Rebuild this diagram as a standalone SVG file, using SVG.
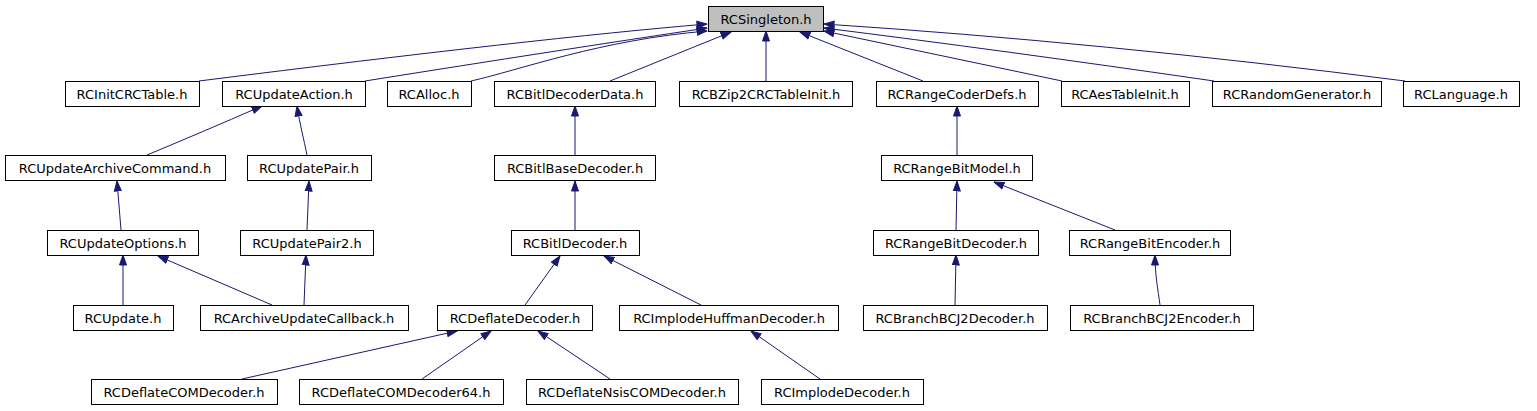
<svg xmlns="http://www.w3.org/2000/svg" width="1537" height="411" viewBox="0 0 1537 411">
<style>
.n rect{fill:#ffffff;stroke:#000000;stroke-width:1}
.n.root rect{fill:#bfbfbf}
.n text{font-family:"DejaVu Sans","Liberation Sans",sans-serif;font-size:13px;fill:#000000;text-anchor:middle}
.e path{fill:none;stroke:#191970;stroke-width:1;marker-end:url(#arr)}
</style>
<defs>
<marker id="arr" markerUnits="userSpaceOnUse" markerWidth="11" markerHeight="9" viewBox="0 0 11 9" refX="10.5" refY="4.5" orient="auto">
<path d="M0.5,1 L10.5,4.5 L0.5,8 z" fill="#191970" stroke="#191970" stroke-width="1"/>
</marker>
</defs>
<rect width="1537" height="411" fill="#ffffff"/>
<g id="connectors" class="e">
<path d="M199,81 Q540,38 707,24"/>
<path d="M365,81 Q560,50 707,28"/>
<path d="M471,81 C520,70 600,40 707,31"/>
<path d="M610,81 L731,32"/>
<path d="M766,81 L766,31"/>
<path d="M923,81 L800,32"/>
<path d="M1062,81 L824,31"/>
<path d="M1214,81 Q1000,50 824,28"/>
<path d="M1405,81 Q1100,42 824,24"/>
<path d="M147,155 Q200,133 262,106"/>
<path d="M307,155 C304,140 300,125 297,106"/>
<path d="M575,155 L575,106"/>
<path d="M957,155 L957,106"/>
<path d="M121,230 L117,181"/>
<path d="M307,230 L309,181"/>
<path d="M575,230 L575,181"/>
<path d="M956,230 L957,181"/>
<path d="M1115,230 L994,182"/>
<path d="M123,305 L123,255"/>
<path d="M272,305 L158,256"/>
<path d="M304,305 L306,255"/>
<path d="M525,305 L560,256"/>
<path d="M701,305 L604,256"/>
<path d="M955,305 L956,255"/>
<path d="M1160,305 C1158,290 1155,275 1155,255"/>
<path d="M242,379 L457,331"/>
<path d="M422,379 L491,331"/>
<path d="M610,379 L538,331"/>
<path d="M820,379 L751,331"/>
</g>
<g id="RCSingleton" class="n root"><rect x="708.5" y="6.5" width="115" height="25"/><text x="766" y="24">RCSingleton.h</text></g>
<g id="RCInitCRCTable" class="n"><rect x="65.5" y="81.5" width="134" height="25"/><text x="132" y="99">RCInitCRCTable.h</text></g>
<g id="RCUpdateAction" class="n"><rect x="222.5" y="81.5" width="143" height="25"/><text x="294" y="99">RCUpdateAction.h</text></g>
<g id="RCAlloc" class="n"><rect x="387.5" y="81.5" width="84" height="25"/><text x="429" y="99">RCAlloc.h</text></g>
<g id="RCBitlDecoderData" class="n"><rect x="494.5" y="81.5" width="161" height="25"/><text x="575" y="99">RCBitlDecoderData.h</text></g>
<g id="RCBZip2CRCTableInit" class="n"><rect x="679.5" y="81.5" width="173" height="25"/><text x="766" y="99">RCBZip2CRCTableInit.h</text></g>
<g id="RCRangeCoderDefs" class="n"><rect x="876.5" y="81.5" width="162" height="25"/><text x="957" y="99">RCRangeCoderDefs.h</text></g>
<g id="RCAesTableInit" class="n"><rect x="1061.5" y="81.5" width="128" height="25"/><text x="1125" y="99">RCAesTableInit.h</text></g>
<g id="RCRandomGenerator" class="n"><rect x="1212.5" y="81.5" width="169" height="25"/><text x="1297" y="99">RCRandomGenerator.h</text></g>
<g id="RCLanguage" class="n"><rect x="1403.5" y="81.5" width="116" height="25"/><text x="1461" y="99">RCLanguage.h</text></g>
<g id="RCUpdateArchiveCommand" class="n"><rect x="5.5" y="155.5" width="220" height="25"/><text x="115" y="173">RCUpdateArchiveCommand.h</text></g>
<g id="RCUpdatePair" class="n"><rect x="247.5" y="155.5" width="124" height="25"/><text x="309" y="173">RCUpdatePair.h</text></g>
<g id="RCBitlBaseDecoder" class="n"><rect x="494.5" y="155.5" width="161" height="25"/><text x="575" y="173">RCBitlBaseDecoder.h</text></g>
<g id="RCRangeBitModel" class="n"><rect x="881.5" y="155.5" width="151" height="25"/><text x="957" y="173">RCRangeBitModel.h</text></g>
<g id="RCUpdateOptions" class="n"><rect x="47.5" y="230.5" width="151" height="25"/><text x="123" y="248">RCUpdateOptions.h</text></g>
<g id="RCUpdatePair2" class="n"><rect x="240.5" y="230.5" width="133" height="25"/><text x="307" y="248">RCUpdatePair2.h</text></g>
<g id="RCBitlDecoder" class="n"><rect x="511.5" y="230.5" width="128" height="25"/><text x="575" y="248">RCBitlDecoder.h</text></g>
<g id="RCRangeBitDecoder" class="n"><rect x="873.5" y="230.5" width="165" height="25"/><text x="956" y="248">RCRangeBitDecoder.h</text></g>
<g id="RCRangeBitEncoder" class="n"><rect x="1069.5" y="230.5" width="161" height="25"/><text x="1150" y="248">RCRangeBitEncoder.h</text></g>
<g id="RCUpdate" class="n"><rect x="73.5" y="305.5" width="100" height="25"/><text x="123" y="323">RCUpdate.h</text></g>
<g id="RCArchiveUpdateCallback" class="n"><rect x="200.5" y="305.5" width="208" height="25"/><text x="304" y="323">RCArchiveUpdateCallback.h</text></g>
<g id="RCDeflateDecoder" class="n"><rect x="437.5" y="305.5" width="155" height="25"/><text x="515" y="323">RCDeflateDecoder.h</text></g>
<g id="RCImplodeHuffmanDecoder" class="n"><rect x="619.5" y="305.5" width="219" height="25"/><text x="729" y="323">RCImplodeHuffmanDecoder.h</text></g>
<g id="RCBranchBCJ2Decoder" class="n"><rect x="863.5" y="305.5" width="184" height="25"/><text x="955" y="323">RCBranchBCJ2Decoder.h</text></g>
<g id="RCBranchBCJ2Encoder" class="n"><rect x="1070.5" y="305.5" width="183" height="25"/><text x="1162" y="323">RCBranchBCJ2Encoder.h</text></g>
<g id="RCDeflateCOMDecoder" class="n"><rect x="91.5" y="379.5" width="186" height="25"/><text x="184" y="397">RCDeflateCOMDecoder.h</text></g>
<g id="RCDeflateCOMDecoder64" class="n"><rect x="299.5" y="379.5" width="204" height="25"/><text x="401" y="397">RCDeflateCOMDecoder64.h</text></g>
<g id="RCDeflateNsisCOMDecoder" class="n"><rect x="526.5" y="379.5" width="212" height="25"/><text x="632" y="397">RCDeflateNsisCOMDecoder.h</text></g>
<g id="RCImplodeDecoder" class="n"><rect x="761.5" y="379.5" width="162" height="25"/><text x="842" y="397">RCImplodeDecoder.h</text></g>
</svg>
